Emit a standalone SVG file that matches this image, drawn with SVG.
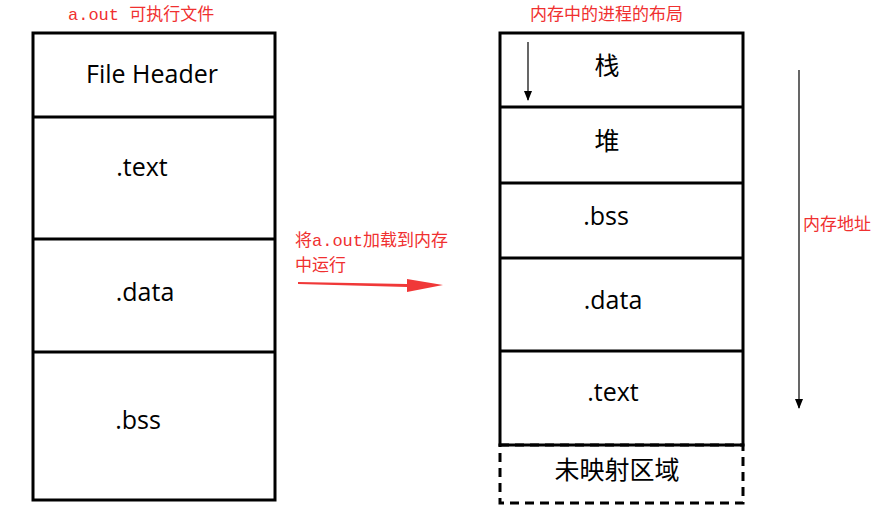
<svg xmlns="http://www.w3.org/2000/svg" width="889" height="514" viewBox="0 0 889 514">
<style>
.box{fill:#fff;stroke:#000;stroke-width:3}
.t{font-family:"Open Sans","Noto Sans CJK SC",sans-serif;font-size:25px;fill:#000;text-anchor:middle}
.r{font-family:"Liberation Mono","Noto Sans CJK SC",monospace;font-size:17px;fill:#f03030}
</style>
<defs>
<marker id="ab" markerWidth="10" markerHeight="8" refX="9" refY="4" orient="auto" markerUnits="userSpaceOnUse"><path d="M0,0 L10,4 L0,8 Z" fill="#000"/></marker>
</defs>
<rect width="889" height="514" fill="#fff"/>
<text class="r" x="68" y="20">a.out 可执行文件</text>
<text class="r" x="530" y="20">内存中的进程的布局</text>
<g id="left">
<rect class="box" x="33" y="33" width="242" height="467"/>
<line class="box" x1="33" y1="117" x2="275" y2="117"/>
<line class="box" x1="33" y1="239" x2="275" y2="239"/>
<line class="box" x1="33" y1="352" x2="275" y2="352"/>
<text class="t" x="152" y="83">File Header</text>
<text class="t" x="142" y="176">.text</text>
<text class="t" x="145" y="301">.data</text>
<text class="t" x="138" y="429">.bss</text>
</g>
<g id="right">
<rect class="box" x="500" y="33" width="243" height="412"/>
<line class="box" x1="500" y1="107" x2="743" y2="107"/>
<line class="box" x1="500" y1="183" x2="743" y2="183"/>
<line class="box" x1="500" y1="258" x2="743" y2="258"/>
<line class="box" x1="500" y1="351" x2="743" y2="351"/>
<rect x="500" y="445" width="243" height="58" fill="none" stroke="#000" stroke-width="3" stroke-dasharray="9,6"/>
<text class="t" x="607" y="75">栈</text>
<text class="t" x="607" y="150">堆</text>
<text class="t" x="606" y="225">.bss</text>
<text class="t" x="613" y="309">.data</text>
<text class="t" x="613" y="401">.text</text>
<text class="t" x="617" y="479">未映射区域</text>
</g>
<text class="r" x="295" y="246">将a.out加载到内存</text>
<text class="r" x="295" y="271">中运行</text>
<text class="r" x="803" y="230">内存地址</text>
<g id="connectors">
<line x1="528" y1="42" x2="528" y2="100" stroke="#000" stroke-width="1.2" marker-end="url(#ab)"/>
<line x1="799" y1="70" x2="799" y2="408" stroke="#000" stroke-width="1.2" marker-end="url(#ab)"/>
<path d="M298,282 L407,284 L407,279 L443,285 L407,292 L407,287 L298,284 Z" fill="#f03838"/>
</g>
</svg>
